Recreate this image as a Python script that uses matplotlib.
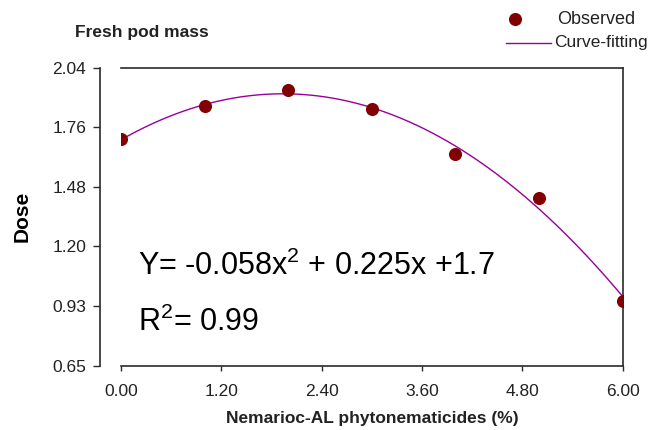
import matplotlib
matplotlib.use("Agg")
import matplotlib.pyplot as plt
from matplotlib.lines import Line2D
import numpy as np

plt.rcParams['font.family'] = ['Liberation Sans', 'DejaVu Sans']
plt.rcParams['mathtext.fontset'] = 'custom'
plt.rcParams['mathtext.rm'] = 'Liberation Sans'

# data
dose = [0, 1, 2, 3, 4, 5, 6]
observed = [1.705, 1.859, 1.935, 1.846, 1.635, 1.433, 0.952]
xtick_vals = [0.0, 1.2, 2.4, 3.6, 4.8, 6.0]
xtick_labels = ['0.00', '1.20', '2.40', '3.60', '4.80', '6.00']
ytick_vals = [0.65, 0.928, 1.206, 1.484, 1.762, 2.04]
ytick_labels = ['0.65', '0.93', '1.20', '1.48', '1.76', '2.04']
title = 'Fresh pod mass'
xlabel = 'Nemarioc-AL phytonematicides (%)'
ylabel = 'Dose'
legend_labels = ['Observed', 'Curve-fitting']
equation = 'Y= -0.058x$\\mathregular{^2}$ + 0.225x +1.7'
r2_text = 'R$\\mathregular{^2}$= 0.99'

# quadratic curve fitting of the observed data
coef = np.polyfit(dose, observed, 2)
xs = np.linspace(min(dose), max(dose), 200)
ys = np.polyval(coef, xs)

fig = plt.figure(figsize=(6.5, 4.3), dpi=100)
ax = fig.add_axes([121/650, 1-365.5/430, 501.7/650, 298/430])

spine_col = '#2a2a2a'
text_col = '#222222'
pt_col = '#800000'
line_col = '#990099'

ax.plot(xs, ys, color=line_col, lw=1.0, zorder=2)
ax.plot(dose, observed, 'o', color=pt_col, ms=8.4, mec=pt_col, zorder=3)

ax.set_xlim(0, 6)
ax.set_ylim(0.65, 2.04)
ax.set_xticks(xtick_vals)
ax.set_xticklabels(xtick_labels)
ax.set_yticks(ytick_vals)
ax.set_yticklabels(ytick_labels)

for s in ax.spines.values():
    s.set_color(spine_col)
    s.set_linewidth(1.2)
ax.spines['left'].set_position(('outward', 15))

ax.tick_params(axis='x', direction='out', length=3.6, width=1.0, color=spine_col,
               labelsize=12.5, labelcolor=text_col, pad=9.5)
ax.tick_params(axis='y', direction='out', length=5, width=1.0, color=spine_col,
               labelsize=12.5, labelcolor=text_col, pad=5)

ax.set_xlabel(xlabel, fontsize=12.5, fontweight='bold', color=text_col, labelpad=8.5)
ax.set_ylabel(ylabel, fontsize=15, fontweight='bold', color='black', labelpad=15)

fig.text(75/650, 1-33/430, title, fontsize=12.5, fontweight='bold', color=text_col,
         ha='left', va='center')

ax.text(0.033, 0.304, equation, transform=ax.transAxes, fontsize=22,
        ha='left', va='baseline', color='black')
ax.text(0.033, 0.117, r2_text, transform=ax.transAxes, fontsize=22,
        ha='left', va='baseline', color='black')

# legend drawn in figure coordinates
y1 = 1 - 19/430
y2 = 1 - 43/430
fig.add_artist(Line2D([515/650], [y1], marker='o', ls='none', color=pt_col,
                      ms=8.4, transform=fig.transFigure))
fig.add_artist(Line2D([506/650, 551/650], [y2, y2], color=line_col, lw=1.0,
                      transform=fig.transFigure))
fig.text(557/650, y1, legend_labels[0], fontsize=13, color=text_col,
         ha='left', va='center')
fig.text(554/650, y2, legend_labels[1], fontsize=12.5, color=text_col,
         ha='left', va='center')

fig.savefig('out.png', dpi=100)
